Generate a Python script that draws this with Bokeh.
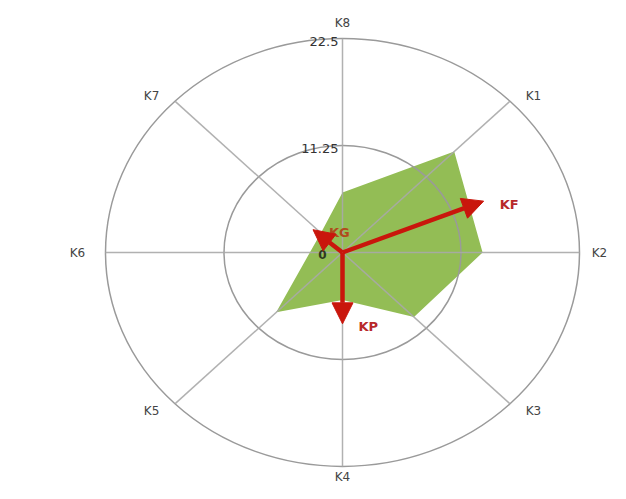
import math
from bokeh.plotting import figure
from bokeh.models import Arrow, NormalHead
from bokeh.core.properties import value
from bokeh.embed import file_html
from bokeh.resources import INLINE

# ---- data ----
categories = ["K1", "K2", "K3", "K4", "K5", "K6", "K7", "K8"]
values = [15.0, 13.3, 9.6, 5.0, 8.9, 3.1, 2.9, 6.3]
ring_values = [11.25, 22.5]
ring_labels = ["11.25", "22.5"]
vector_names = ["KF", "KG", "KP"]
vector_x = [13.4, -2.8, 0.0]
vector_y = [5.4, 2.4, -7.5]

RMAX = 22.5
W, H = 610, 483
cx_px, cy_px = 342, 252
sx = 237 / RMAX
sy = 214 / RMAX

p = figure(width=W, height=H, output_backend="svg", toolbar_location=None,
           x_range=(-cx_px / sx, (W - cx_px) / sx),
           y_range=(-(H - cy_px) / sy, cy_px / sy),
           min_border=0, outline_line_color=None)
p.axis.visible = False
p.grid.visible = False
p.background_fill_color = "white"

# angles: K8 at top, clockwise, K1 at 45 degrees
angles = [math.radians(45 * (i + 1)) for i in range(len(categories))]

# polygon
px = [v * math.sin(a) for v, a in zip(values, angles)]
py = [v * math.cos(a) for v, a in zip(values, angles)]
p.patch(px, py, fill_color="#93bd55", line_color=None)

# rings
for r in ring_values:
    p.ellipse(x=0, y=0, width=2 * r, height=2 * r, fill_alpha=0,
              line_color="#9a9a9a", line_width=1.5)

# spokes
p.segment(x0=[0] * 8, y0=[0] * 8,
          x1=[RMAX * math.sin(a) for a in angles],
          y1=[RMAX * math.cos(a) for a in angles],
          line_color="#a8a8a8", line_width=1.5, line_alpha=0.9)

# category labels (at ring end, pushed outward in pixels)
lx = [RMAX * math.sin(a) for a in angles]
ly = [RMAX * math.cos(a) for a in angles]
xo = []
yo = []
for a in angles:
    s, c = math.sin(a), math.cos(a)
    diag = abs(abs(s) - abs(c)) < 0.1
    xo.append(s * (33 if diag else (20 if s > 0 else 28)))
    if c > 0:
        yo.append(-16 * c ** 3)
    else:
        yo.append(-(20 if diag else 10) * c ** 3)
p.text(x=lx, y=ly, text=categories, x_offset=xo, y_offset=yo,
       text_align="center", text_baseline="middle",
       text_font=value("DejaVu Sans"), text_font_size="12px", text_color="#444444")

# ring tick labels
p.text(x=[0, 0], y=ring_values, text=ring_labels, text_align="right",
       text_baseline="middle", x_offset=-4, y_offset=3,
       text_font=value("DejaVu Sans"), text_font_size="13px", text_color="#333333")
p.text(x=[0], y=[0], text=["0"], text_align="right", text_baseline="middle",
       x_offset=-16, y_offset=2, text_font=value("DejaVu Sans"),
       text_font_size="12px", text_color="#2f3a20", text_font_style="bold")

# arrows
red = "#c9160c"
for vx, vy in zip(vector_x, vector_y):
    p.add_layout(Arrow(end=NormalHead(size=21, fill_color=red, line_color=red),
                       x_start=0, y_start=0, x_end=vx, y_end=vy,
                       line_color=red, line_width=4.5))

p.text(x=vector_x, y=vector_y, text=vector_names, text_align="left",
       text_baseline="middle", x_offset=16, y_offset=3,
       text_font=value("DejaVu Sans"), text_font_size="13px",
       text_font_style="bold", text_color=["#b8282a", "#b04a1c", "#b8282a"])

open("out.html", "w").write(file_html(p, INLINE))
